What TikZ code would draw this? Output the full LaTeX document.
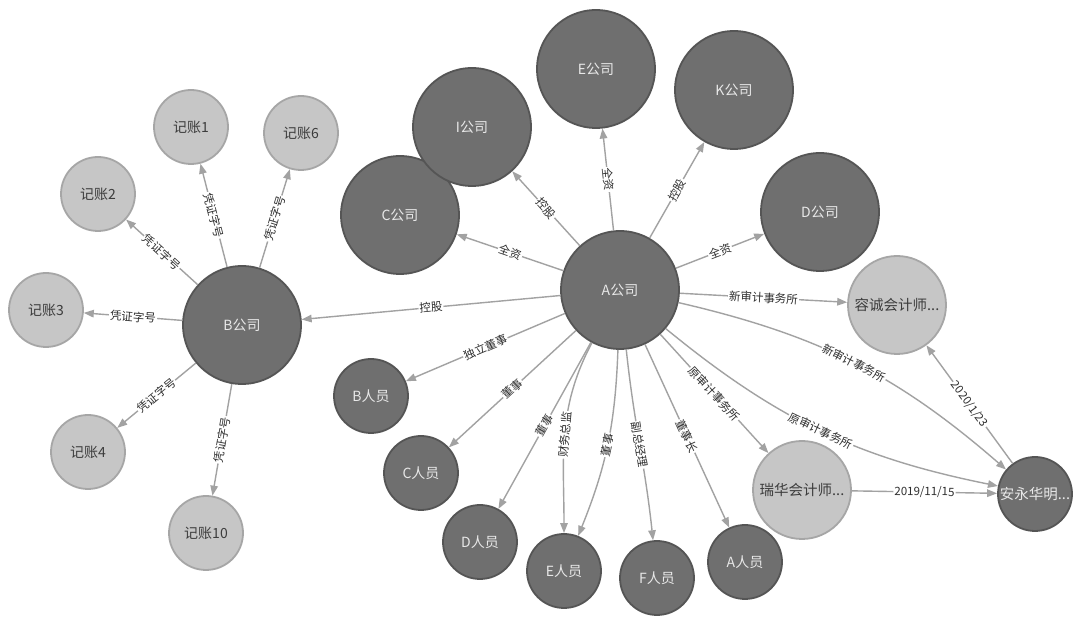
\documentclass[tikz,border=0pt]{standalone}
\usepackage{fontspec}
\setmainfont{Noto Sans CJK SC}
\usetikzlibrary{arrows.meta}
\definecolor{darkfill}{HTML}{6F6F6F}
\definecolor{darkline}{HTML}{555555}
\definecolor{darktext}{HTML}{E8E8E8}
\definecolor{lightfill}{HTML}{C6C6C6}
\definecolor{lightline}{HTML}{A6A6A6}
\definecolor{lighttext}{HTML}{3C3C3C}
\definecolor{edgecol}{HTML}{A2A2A2}
\definecolor{labcol}{HTML}{2E2E2E}
\begin{document}
\begin{tikzpicture}[x=1pt,y=1pt,
  dk/.style={circle, fill=darkfill, draw=darkline, line width=1.8pt, text=darktext,
    font=\fontsize{14}{14}\selectfont, inner sep=0pt},
  lt/.style={circle, fill=lightfill, draw=lightline, line width=1.8pt, text=lighttext,
    font=\fontsize{14}{14}\selectfont, inner sep=0pt},
  big/.style={minimum size=118pt},
  mid/.style={minimum size=98pt},
  sml/.style={minimum size=74pt},
  rel/.style={draw=edgecol, line width=1.4pt, -{Triangle[length=10pt,width=7.5pt]}},
  lab/.style={sloped, fill=white, inner sep=1pt, text=labcol,
    font=\fontsize{11.5}{12}\selectfont},
]
\fill[white] (0,0) rectangle (1080,621);
\useasboundingbox (0,0) rectangle (1080,621);

% companies
\node[dk,big] (A) at (620,331) {A公司};
\node[dk,big] (Bc) at (242,296) {B公司};
\node[dk,big] (Cc) at (400,406) {C公司};
\node[dk,big] (Ic) at (472,494) {I公司};
\node[dk,big] (Ec) at (596,552) {E公司};
\node[dk,big] (Kc) at (734,531) {K公司};
\node[dk,big] (Dc) at (820,409) {D公司};
% audit firms
\node[lt,mid,font=\fontsize{14.5}{15}\selectfont] (RC) at (897,316) {容诚会计师...};
\node[lt,mid,font=\fontsize{14.5}{15}\selectfont] (RH) at (802,131) {瑞华会计师...};
\node[dk,sml,font=\fontsize{14.5}{15}\selectfont] (AY) at (1035,127) {安永华明...};
% persons
\node[dk,sml] (Bp) at (371,225) {B人员};
\node[dk,sml] (Cp) at (421,148) {C人员};
\node[dk,sml] (Dp) at (480,79) {D人员};
\node[dk,sml] (Ep) at (564,50) {E人员};
\node[dk,sml] (Fp) at (657,43) {F人员};
\node[dk,sml] (Ap) at (745,59) {A人员};
% bookkeeping
\node[lt,sml] (J1) at (191,494) {记账1};
\node[lt,sml] (J6) at (301,488) {记账6};
\node[lt,sml] (J2) at (98,427) {记账2};
\node[lt,sml] (J3) at (46,311) {记账3};
\node[lt,sml] (J4) at (88,169) {记账4};
\node[lt,sml] (J10) at (206,88) {记账10};

% A company edges
\draw[rel] (A) -- node[lab]{全资} (Cc);
\draw[rel] (A) -- node[lab]{控股} (Ic);
\draw[rel] (A) -- node[lab]{全资} (Ec);
\draw[rel] (A) -- node[lab]{控股} (Kc);
\draw[rel] (A) -- node[lab]{全资} (Dc);
\draw[rel] (A) -- node[lab]{控股} (Bc);
\draw[rel] (A) -- node[lab]{新审计事务所} (RC);
\draw[rel] (A) to[bend left=14] node[lab]{新审计事务所} (AY);
\draw[rel] (A) to[bend right=14] node[lab]{原审计事务所} (AY);
\draw[rel] (A) -- node[lab]{原审计事务所} (RH);
\draw[rel] (RH) -- node[lab]{2019/11/15} (AY);
\draw[rel] (AY) -- node[lab]{2020/1/23} (RC);
\draw[rel] (A) -- node[lab]{独立董事} (Bp);
\draw[rel] (A) -- node[lab]{董事} (Cp);
\draw[rel] (A) -- node[lab]{董事} (Dp);
\draw[rel] (A) to[out=-118,in=90] node[lab]{财务总监} (Ep);
\draw[rel] (A) to[out=-92,in=68] node[lab]{董事} (Ep);
\draw[rel] (A) to[out=-84,in=96] node[lab]{副总经理} (Fp);
\draw[rel] (A) -- node[lab]{董事长} (Ap);

% B company edges
\draw[rel] (Bc) -- node[lab]{凭证字号} (J1);
\draw[rel] (Bc) -- node[lab]{凭证字号} (J6);
\draw[rel] (Bc) -- node[lab]{凭证字号} (J2);
\draw[rel] (Bc) -- node[lab]{凭证字号} (J3);
\draw[rel] (Bc) -- node[lab]{凭证字号} (J4);
\draw[rel] (Bc) -- node[lab]{凭证字号} (J10);
\end{tikzpicture}
\end{document}
